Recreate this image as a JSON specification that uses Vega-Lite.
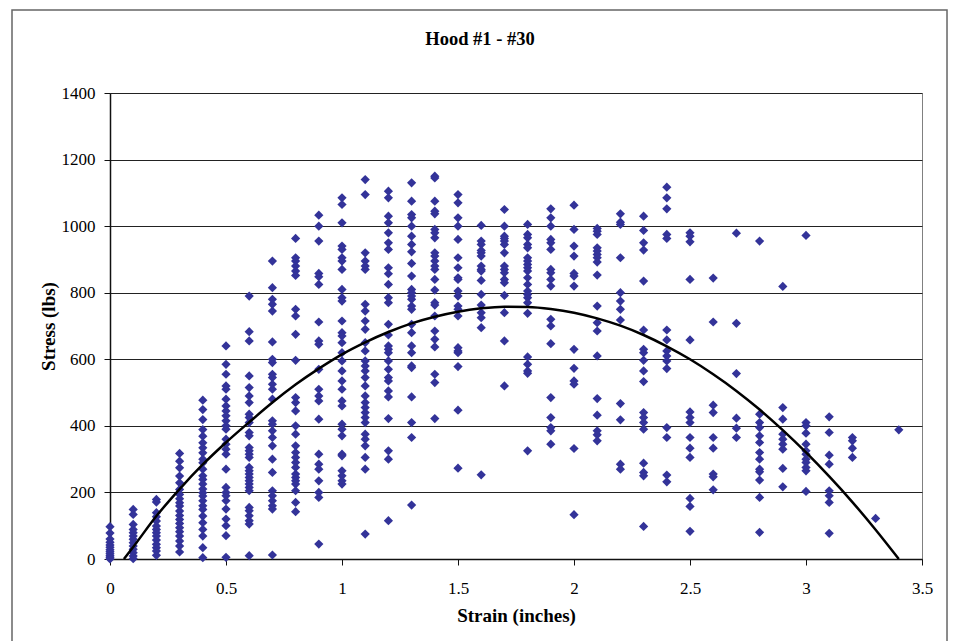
{
  "$schema": "https://vega.github.io/schema/vega-lite/v6.json",
  "width": 812,
  "height": 466,
  "autosize": {"type": "none"},
  "padding": {"left": 110, "top": 93, "right": 31, "bottom": 82},
  "background": "white",
  "title": {"text": "Hood #1 - #30", "font": "Liberation Serif", "fontSize": 18.5, "fontWeight": "bold", "color": "black", "anchor": "middle", "dx": -36, "offset": 36, "dy": 75},
  "datasets": {
    "pts": [
      {"x":0,"y":97},{"x":0,"y":78},{"x":0,"y":60},{"x":0,"y":50},{"x":0,"y":42},{"x":0,"y":35},{"x":0,"y":28},{"x":0,"y":22},{"x":0,"y":16},{"x":0,"y":10},{"x":0,"y":5},{"x":0,"y":0},
      {"x":0.1,"y":149},{"x":0.1,"y":134},{"x":0.1,"y":104},{"x":0.1,"y":89},{"x":0.1,"y":79},{"x":0.1,"y":69},{"x":0.1,"y":59},{"x":0.1,"y":49},{"x":0.1,"y":39},{"x":0.1,"y":29},{"x":0.1,"y":19},{"x":0.1,"y":9},{"x":0.1,"y":1},
      {"x":0.2,"y":179},{"x":0.2,"y":171},{"x":0.2,"y":139},{"x":0.2,"y":127},{"x":0.2,"y":114},{"x":0.2,"y":99},{"x":0.2,"y":89},{"x":0.2,"y":79},{"x":0.2,"y":69},{"x":0.2,"y":57},{"x":0.2,"y":44},{"x":0.2,"y":34},{"x":0.2,"y":24},{"x":0.2,"y":11},
      {"x":0.3,"y":317},{"x":0.3,"y":294},{"x":0.3,"y":274},{"x":0.3,"y":249},{"x":0.3,"y":229},{"x":0.3,"y":209},{"x":0.3,"y":194},{"x":0.3,"y":181},{"x":0.3,"y":169},{"x":0.3,"y":159},{"x":0.3,"y":144},{"x":0.3,"y":131},{"x":0.3,"y":119},{"x":0.3,"y":107},{"x":0.3,"y":94},{"x":0.3,"y":82},{"x":0.3,"y":69},{"x":0.3,"y":54},{"x":0.3,"y":39},{"x":0.3,"y":21},
      {"x":0.4,"y":477},{"x":0.4,"y":449},{"x":0.4,"y":419},{"x":0.4,"y":389},{"x":0.4,"y":369},{"x":0.4,"y":349},{"x":0.4,"y":334},{"x":0.4,"y":319},{"x":0.4,"y":300},{"x":0.4,"y":289},{"x":0.4,"y":270},{"x":0.4,"y":250},{"x":0.4,"y":239},{"x":0.4,"y":225},{"x":0.4,"y":210},{"x":0.4,"y":199},{"x":0.4,"y":189},{"x":0.4,"y":175},{"x":0.4,"y":160},{"x":0.4,"y":149},{"x":0.4,"y":129},{"x":0.4,"y":109},{"x":0.4,"y":89},{"x":0.4,"y":69},{"x":0.4,"y":34},{"x":0.4,"y":4},
      {"x":0.5,"y":640},{"x":0.5,"y":585},{"x":0.5,"y":555},{"x":0.5,"y":520},{"x":0.5,"y":510},{"x":0.5,"y":480},{"x":0.5,"y":460},{"x":0.5,"y":445},{"x":0.5,"y":430},{"x":0.5,"y":415},{"x":0.5,"y":400},{"x":0.5,"y":390},{"x":0.5,"y":360},{"x":0.5,"y":345},{"x":0.5,"y":330},{"x":0.5,"y":315},{"x":0.5,"y":270},{"x":0.5,"y":215},{"x":0.5,"y":200},{"x":0.5,"y":190},{"x":0.5,"y":175},{"x":0.5,"y":150},{"x":0.5,"y":120},{"x":0.5,"y":100},{"x":0.5,"y":70},{"x":0.5,"y":5},
      {"x":0.6,"y":790},{"x":0.6,"y":683},{"x":0.6,"y":655},{"x":0.6,"y":550},{"x":0.6,"y":515},{"x":0.6,"y":490},{"x":0.6,"y":470},{"x":0.6,"y":435},{"x":0.6,"y":425},{"x":0.6,"y":410},{"x":0.6,"y":380},{"x":0.6,"y":370},{"x":0.6,"y":335},{"x":0.6,"y":325},{"x":0.6,"y":315},{"x":0.6,"y":305},{"x":0.6,"y":275},{"x":0.6,"y":265},{"x":0.6,"y":255},{"x":0.6,"y":245},{"x":0.6,"y":235},{"x":0.6,"y":225},{"x":0.6,"y":215},{"x":0.6,"y":205},{"x":0.6,"y":155},{"x":0.6,"y":145},{"x":0.6,"y":130},{"x":0.6,"y":115},{"x":0.6,"y":105},{"x":0.6,"y":10},
      {"x":0.7,"y":895},{"x":0.7,"y":815},{"x":0.7,"y":780},{"x":0.7,"y":765},{"x":0.7,"y":745},{"x":0.7,"y":652},{"x":0.7,"y":600},{"x":0.7,"y":590},{"x":0.7,"y":555},{"x":0.7,"y":545},{"x":0.7,"y":525},{"x":0.7,"y":510},{"x":0.7,"y":480},{"x":0.7,"y":415},{"x":0.7,"y":405},{"x":0.7,"y":385},{"x":0.7,"y":365},{"x":0.7,"y":340},{"x":0.7,"y":300},{"x":0.7,"y":260},{"x":0.7,"y":205},{"x":0.7,"y":190},{"x":0.7,"y":175},{"x":0.7,"y":160},{"x":0.7,"y":150},{"x":0.7,"y":12},
      {"x":0.8,"y":963},{"x":0.8,"y":905},{"x":0.8,"y":895},{"x":0.8,"y":880},{"x":0.8,"y":865},{"x":0.8,"y":852},{"x":0.8,"y":750},{"x":0.8,"y":730},{"x":0.8,"y":675},{"x":0.8,"y":597},{"x":0.8,"y":485},{"x":0.8,"y":470},{"x":0.8,"y":445},{"x":0.8,"y":400},{"x":0.8,"y":375},{"x":0.8,"y":340},{"x":0.8,"y":320},{"x":0.8,"y":305},{"x":0.8,"y":290},{"x":0.8,"y":275},{"x":0.8,"y":255},{"x":0.8,"y":245},{"x":0.8,"y":235},{"x":0.8,"y":225},{"x":0.8,"y":205},{"x":0.8,"y":170},{"x":0.8,"y":142},
      {"x":0.9,"y":1033},{"x":0.9,"y":1000},{"x":0.9,"y":955},{"x":0.9,"y":858},{"x":0.9,"y":848},{"x":0.9,"y":825},{"x":0.9,"y":712},{"x":0.9,"y":655},{"x":0.9,"y":645},{"x":0.9,"y":570},{"x":0.9,"y":510},{"x":0.9,"y":490},{"x":0.9,"y":475},{"x":0.9,"y":420},{"x":0.9,"y":315},{"x":0.9,"y":285},{"x":0.9,"y":270},{"x":0.9,"y":235},{"x":0.9,"y":200},{"x":0.9,"y":185},{"x":0.9,"y":45},
      {"x":1.0,"y":1085},{"x":1.0,"y":1065},{"x":1.0,"y":1010},{"x":1.0,"y":940},{"x":1.0,"y":930},{"x":1.0,"y":905},{"x":1.0,"y":895},{"x":1.0,"y":870},{"x":1.0,"y":810},{"x":1.0,"y":785},{"x":1.0,"y":775},{"x":1.0,"y":715},{"x":1.0,"y":680},{"x":1.0,"y":670},{"x":1.0,"y":650},{"x":1.0,"y":620},{"x":1.0,"y":595},{"x":1.0,"y":565},{"x":1.0,"y":535},{"x":1.0,"y":510},{"x":1.0,"y":475},{"x":1.0,"y":460},{"x":1.0,"y":405},{"x":1.0,"y":390},{"x":1.0,"y":370},{"x":1.0,"y":315},{"x":1.0,"y":310},{"x":1.0,"y":265},{"x":1.0,"y":250},{"x":1.0,"y":235},{"x":1.0,"y":225},
      {"x":1.1,"y":1140},{"x":1.1,"y":1095},{"x":1.1,"y":920},{"x":1.1,"y":895},{"x":1.1,"y":880},{"x":1.1,"y":870},{"x":1.1,"y":765},{"x":1.1,"y":745},{"x":1.1,"y":715},{"x":1.1,"y":690},{"x":1.1,"y":650},{"x":1.1,"y":625},{"x":1.1,"y":595},{"x":1.1,"y":580},{"x":1.1,"y":565},{"x":1.1,"y":545},{"x":1.1,"y":520},{"x":1.1,"y":490},{"x":1.1,"y":470},{"x":1.1,"y":455},{"x":1.1,"y":440},{"x":1.1,"y":425},{"x":1.1,"y":410},{"x":1.1,"y":375},{"x":1.1,"y":360},{"x":1.1,"y":340},{"x":1.1,"y":305},{"x":1.1,"y":270},{"x":1.1,"y":75},
      {"x":1.2,"y":1105},{"x":1.2,"y":1085},{"x":1.2,"y":1030},{"x":1.2,"y":1010},{"x":1.2,"y":980},{"x":1.2,"y":950},{"x":1.2,"y":930},{"x":1.2,"y":875},{"x":1.2,"y":857},{"x":1.2,"y":825},{"x":1.2,"y":785},{"x":1.2,"y":770},{"x":1.2,"y":705},{"x":1.2,"y":673},{"x":1.2,"y":640},{"x":1.2,"y":630},{"x":1.2,"y":620},{"x":1.2,"y":595},{"x":1.2,"y":570},{"x":1.2,"y":545},{"x":1.2,"y":535},{"x":1.2,"y":505},{"x":1.2,"y":487},{"x":1.2,"y":422},{"x":1.2,"y":325},{"x":1.2,"y":300},{"x":1.2,"y":115},
      {"x":1.3,"y":1130},{"x":1.3,"y":1075},{"x":1.3,"y":1035},{"x":1.3,"y":1025},{"x":1.3,"y":1000},{"x":1.3,"y":970},{"x":1.3,"y":945},{"x":1.3,"y":923},{"x":1.3,"y":888},{"x":1.3,"y":850},{"x":1.3,"y":810},{"x":1.3,"y":800},{"x":1.3,"y":790},{"x":1.3,"y":780},{"x":1.3,"y":760},{"x":1.3,"y":750},{"x":1.3,"y":705},{"x":1.3,"y":680},{"x":1.3,"y":640},{"x":1.3,"y":620},{"x":1.3,"y":580},{"x":1.3,"y":575},{"x":1.3,"y":487},{"x":1.3,"y":410},{"x":1.3,"y":365},{"x":1.3,"y":162},
      {"x":1.4,"y":1150},{"x":1.4,"y":1145},{"x":1.4,"y":1075},{"x":1.4,"y":1045},{"x":1.4,"y":1037},{"x":1.4,"y":990},{"x":1.4,"y":980},{"x":1.4,"y":965},{"x":1.4,"y":920},{"x":1.4,"y":910},{"x":1.4,"y":895},{"x":1.4,"y":880},{"x":1.4,"y":870},{"x":1.4,"y":840},{"x":1.4,"y":808},{"x":1.4,"y":770},{"x":1.4,"y":763},{"x":1.4,"y":730},{"x":1.4,"y":685},{"x":1.4,"y":660},{"x":1.4,"y":637},{"x":1.4,"y":555},{"x":1.4,"y":530},{"x":1.4,"y":422},
      {"x":1.5,"y":1095},{"x":1.5,"y":1070},{"x":1.5,"y":1025},{"x":1.5,"y":1000},{"x":1.5,"y":960},{"x":1.5,"y":905},{"x":1.5,"y":875},{"x":1.5,"y":845},{"x":1.5,"y":840},{"x":1.5,"y":805},{"x":1.5,"y":790},{"x":1.5,"y":760},{"x":1.5,"y":750},{"x":1.5,"y":730},{"x":1.5,"y":635},{"x":1.5,"y":625},{"x":1.5,"y":620},{"x":1.5,"y":578},{"x":1.5,"y":447},{"x":1.5,"y":273},
      {"x":1.6,"y":1002},{"x":1.6,"y":955},{"x":1.6,"y":945},{"x":1.6,"y":927},{"x":1.6,"y":920},{"x":1.6,"y":910},{"x":1.6,"y":880},{"x":1.6,"y":870},{"x":1.6,"y":865},{"x":1.6,"y":837},{"x":1.6,"y":795},{"x":1.6,"y":763},{"x":1.6,"y":740},{"x":1.6,"y":725},{"x":1.6,"y":695},{"x":1.6,"y":253},
      {"x":1.7,"y":1050},{"x":1.7,"y":1000},{"x":1.7,"y":970},{"x":1.7,"y":963},{"x":1.7,"y":955},{"x":1.7,"y":945},{"x":1.7,"y":920},{"x":1.7,"y":880},{"x":1.7,"y":870},{"x":1.7,"y":860},{"x":1.7,"y":840},{"x":1.7,"y":830},{"x":1.7,"y":792},{"x":1.7,"y":740},{"x":1.7,"y":655},{"x":1.7,"y":520},
      {"x":1.8,"y":1005},{"x":1.8,"y":975},{"x":1.8,"y":965},{"x":1.8,"y":945},{"x":1.8,"y":935},{"x":1.8,"y":905},{"x":1.8,"y":895},{"x":1.8,"y":885},{"x":1.8,"y":875},{"x":1.8,"y":865},{"x":1.8,"y":845},{"x":1.8,"y":825},{"x":1.8,"y":805},{"x":1.8,"y":795},{"x":1.8,"y":785},{"x":1.8,"y":770},{"x":1.8,"y":738},{"x":1.8,"y":607},{"x":1.8,"y":585},{"x":1.8,"y":565},{"x":1.8,"y":558},{"x":1.8,"y":325},
      {"x":1.9,"y":1052},{"x":1.9,"y":1025},{"x":1.9,"y":1000},{"x":1.9,"y":960},{"x":1.9,"y":950},{"x":1.9,"y":930},{"x":1.9,"y":870},{"x":1.9,"y":860},{"x":1.9,"y":840},{"x":1.9,"y":820},{"x":1.9,"y":720},{"x":1.9,"y":700},{"x":1.9,"y":647},{"x":1.9,"y":485},{"x":1.9,"y":425},{"x":1.9,"y":395},{"x":1.9,"y":385},{"x":1.9,"y":345},
      {"x":2.0,"y":1063},{"x":2.0,"y":990},{"x":2.0,"y":940},{"x":2.0,"y":910},{"x":2.0,"y":858},{"x":2.0,"y":850},{"x":2.0,"y":820},{"x":2.0,"y":630},{"x":2.0,"y":573},{"x":2.0,"y":535},{"x":2.0,"y":525},{"x":2.0,"y":332},{"x":2.0,"y":133},
      {"x":2.1,"y":993},{"x":2.1,"y":985},{"x":2.1,"y":975},{"x":2.1,"y":935},{"x":2.1,"y":925},{"x":2.1,"y":915},{"x":2.1,"y":905},{"x":2.1,"y":892},{"x":2.1,"y":853},{"x":2.1,"y":760},{"x":2.1,"y":710},{"x":2.1,"y":685},{"x":2.1,"y":610},{"x":2.1,"y":482},{"x":2.1,"y":432},{"x":2.1,"y":385},{"x":2.1,"y":373},{"x":2.1,"y":355},
      {"x":2.2,"y":1037},{"x":2.2,"y":1012},{"x":2.2,"y":1005},{"x":2.2,"y":905},{"x":2.2,"y":800},{"x":2.2,"y":775},{"x":2.2,"y":750},{"x":2.2,"y":718},{"x":2.2,"y":467},{"x":2.2,"y":418},{"x":2.2,"y":285},{"x":2.2,"y":270},
      {"x":2.3,"y":1030},{"x":2.3,"y":987},{"x":2.3,"y":950},{"x":2.3,"y":928},{"x":2.3,"y":835},{"x":2.3,"y":688},{"x":2.3,"y":630},{"x":2.3,"y":620},{"x":2.3,"y":597},{"x":2.3,"y":565},{"x":2.3,"y":533},{"x":2.3,"y":440},{"x":2.3,"y":425},{"x":2.3,"y":410},{"x":2.3,"y":390},{"x":2.3,"y":288},{"x":2.3,"y":260},{"x":2.3,"y":250},{"x":2.3,"y":98},
      {"x":2.4,"y":1117},{"x":2.4,"y":1085},{"x":2.4,"y":1052},{"x":2.4,"y":975},{"x":2.4,"y":963},{"x":2.4,"y":688},{"x":2.4,"y":658},{"x":2.4,"y":625},{"x":2.4,"y":610},{"x":2.4,"y":595},{"x":2.4,"y":572},{"x":2.4,"y":395},{"x":2.4,"y":365},{"x":2.4,"y":252},{"x":2.4,"y":232},
      {"x":2.5,"y":980},{"x":2.5,"y":970},{"x":2.5,"y":953},{"x":2.5,"y":840},{"x":2.5,"y":658},{"x":2.5,"y":442},{"x":2.5,"y":425},{"x":2.5,"y":410},{"x":2.5,"y":365},{"x":2.5,"y":333},{"x":2.5,"y":305},{"x":2.5,"y":182},{"x":2.5,"y":158},{"x":2.5,"y":83},
      {"x":2.6,"y":844},{"x":2.6,"y":712},{"x":2.6,"y":462},{"x":2.6,"y":440},{"x":2.6,"y":365},{"x":2.6,"y":333},{"x":2.6,"y":255},{"x":2.6,"y":247},{"x":2.6,"y":208},
      {"x":2.7,"y":979},{"x":2.7,"y":708},{"x":2.7,"y":557},{"x":2.7,"y":423},{"x":2.7,"y":393},{"x":2.7,"y":365},
      {"x":2.8,"y":955},{"x":2.8,"y":435},{"x":2.8,"y":410},{"x":2.8,"y":395},{"x":2.8,"y":370},{"x":2.8,"y":350},{"x":2.8,"y":320},{"x":2.8,"y":300},{"x":2.8,"y":270},{"x":2.8,"y":262},{"x":2.8,"y":237},{"x":2.8,"y":185},{"x":2.8,"y":80},
      {"x":2.9,"y":819},{"x":2.9,"y":455},{"x":2.9,"y":420},{"x":2.9,"y":375},{"x":2.9,"y":360},{"x":2.9,"y":345},{"x":2.9,"y":330},{"x":2.9,"y":272},{"x":2.9,"y":217},
      {"x":3.0,"y":972},{"x":3.0,"y":410},{"x":3.0,"y":400},{"x":3.0,"y":378},{"x":3.0,"y":345},{"x":3.0,"y":325},{"x":3.0,"y":315},{"x":3.0,"y":300},{"x":3.0,"y":290},{"x":3.0,"y":275},{"x":3.0,"y":265},{"x":3.0,"y":203},
      {"x":3.1,"y":427},{"x":3.1,"y":380},{"x":3.1,"y":312},{"x":3.1,"y":285},{"x":3.1,"y":205},{"x":3.1,"y":190},{"x":3.1,"y":170},{"x":3.1,"y":77},
      {"x":3.2,"y":365},{"x":3.2,"y":355},{"x":3.2,"y":333},{"x":3.2,"y":305},
      {"x":3.3,"y":122},
      {"x":3.4,"y":388}
    ],
    "fit": [
      {"x":0.06,"y":0},{"x":0.1,"y":36},{"x":0.2,"y":129},{"x":0.3,"y":210},{"x":0.4,"y":284},{"x":0.5,"y":350},{"x":0.6,"y":411},{"x":0.7,"y":470},{"x":0.8,"y":524},{"x":0.9,"y":572},{"x":1.0,"y":615},{"x":1.1,"y":651},{"x":1.2,"y":682},{"x":1.3,"y":708},{"x":1.4,"y":728},{"x":1.5,"y":743},{"x":1.6,"y":753},{"x":1.7,"y":758},{"x":1.8,"y":757},{"x":1.9,"y":751},{"x":2.0,"y":740},{"x":2.1,"y":723},{"x":2.2,"y":701},{"x":2.3,"y":673},{"x":2.4,"y":639},{"x":2.5,"y":600},{"x":2.6,"y":555},{"x":2.7,"y":505},{"x":2.8,"y":449},{"x":2.9,"y":387},{"x":3.0,"y":320},{"x":3.1,"y":248},{"x":3.2,"y":171},{"x":3.3,"y":88},{"x":3.4,"y":0}
    ]
  },
  "layer": [
    {
      "data": {"values": [{}]},
      "mark": {"type": "rect", "fill": null, "stroke": "#666666", "strokeWidth": 1.5, "clip": false},
      "encoding": {
        "x": {"datum": -0.4224, "type": "quantitative", "scale": {"domain": [0, 3.5], "nice": false, "zero": false}},
        "x2": {"datum": 3.6078},
        "y": {"datum": 1649, "type": "quantitative", "scale": {"domain": [0, 1400], "nice": false}},
        "y2": {"datum": -262}
      }
    },
    {
      "data": {"name": "pts"},
      "mark": {"type": "point", "shape": "diamond", "filled": true, "size": 85, "color": "#333399", "opacity": 1},
      "encoding": {
        "x": {"field": "x", "type": "quantitative", "title": "Strain (inches)",
          "axis": {"values": [0, 0.5, 1, 1.5, 2, 2.5, 3, 3.5], "format": "~g", "grid": false, "labelPadding": 15, "tickSize": 6, "titlePadding": 10}},
        "y": {"field": "y", "type": "quantitative", "title": "Stress (lbs)",
          "axis": {"values": [0, 200, 400, 600, 800, 1000, 1200, 1400], "format": "d", "grid": true, "labelPadding": 9, "tickSize": 6, "titlePadding": 3}}
      }
    },
    {
      "data": {"name": "fit"},
      "mark": {"type": "line", "color": "black", "strokeWidth": 2.5, "interpolate": "monotone"},
      "encoding": {
        "x": {"field": "x", "type": "quantitative"},
        "y": {"field": "y", "type": "quantitative"}
      }
    }
  ],
  "config": {
    "font": "Liberation Serif",
    "view": {"stroke": "#808080", "strokeWidth": 1},
    "axis": {
      "labelFont": "Liberation Serif", "labelFontSize": 17, "labelColor": "black",
      "titleFont": "Liberation Serif", "titleFontSize": 19, "titleFontWeight": "bold", "titleColor": "black",
      "domainColor": "#111111", "domainWidth": 1.5, "tickColor": "#111111", "tickWidth": 1,
      "gridColor": "#222222", "gridWidth": 1, "labelFlush": false, "labelOverlap": false
    }
  }
}
